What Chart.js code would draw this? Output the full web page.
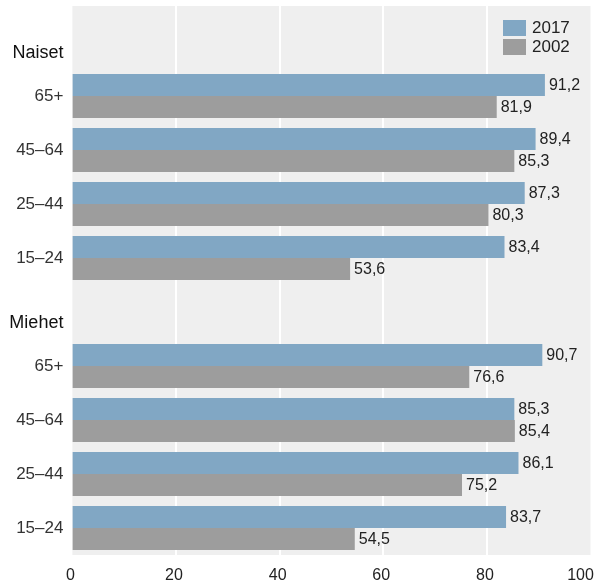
<!DOCTYPE html>
<html>
<head>
<meta charset="utf-8">
<script src="https://cdn.jsdelivr.net/npm/chart.js@4"></script>
<style>
  body { margin: 0; background: #fff; }
  canvas { display: block; }
</style>
</head>
<body>
<canvas id="chart" width="596" height="583"></canvas>
<script>
// ================= DATA =================
const groups = ["Naiset", "Miehet"];
const ageLabels = ["65+", "45–64", "25–44", "15–24"];
const seriesNames = ["2017", "2002"];
const women2017 = [91.2, 89.4, 87.3, 83.4];
const women2002 = [81.9, 85.3, 80.3, 53.6];
const men2017 = [90.7, 85.3, 86.1, 83.7];
const men2002 = [76.6, 85.4, 75.2, 54.5];
const xTicks = [0, 20, 40, 60, 80, 100];

const BLUE = "#81a7c4";
const GRAY = "#9d9d9d";
const BG = "#efefef";
const FONT = "'Liberation Sans', Arial, Helvetica, sans-serif";

// header rows carry no bars
const labels = [["", groups[0]], ...ageLabels, ["", groups[1]], ...ageLabels];
const isHeader = i => i === 0 || i === 5;
const d2017 = [null, ...women2017, null, ...men2017];
const d2002 = [null, ...women2002, null, ...men2002];

const fmt = v => String(v).replace(".", ",");
const noPad = s => { s.paddingLeft = s.paddingRight = s.paddingTop = s.paddingBottom = 0; };

// ================= PLUGINS =================
const backdrop = {
    id: "backdrop",
    beforeDraw(chart) {
        const {ctx, chartArea: a, scales: {x}} = chart;
        const top = 6;
        ctx.save();
        ctx.fillStyle = BG;
        ctx.fillRect(a.left, top, a.right - a.left, a.bottom - top);
        ctx.strokeStyle = "#fff";
        ctx.lineWidth = 2;
        xTicks.slice(1, -1).forEach(t => {
            const px = Math.round(x.getPixelForValue(t));
            ctx.beginPath();
            ctx.moveTo(px, top);
            ctx.lineTo(px, a.bottom);
            ctx.stroke();
        });
        ctx.restore();
    }
};

const valueLabels = {
    id: "valueLabels",
    afterDatasetsDraw(chart) {
        const ctx = chart.ctx;
        ctx.save();
        ctx.font = "16px " + FONT;
        ctx.fillStyle = "#222";
        ctx.textAlign = "left";
        ctx.textBaseline = "middle";
        chart.data.datasets.forEach((ds, di) => {
            chart.getDatasetMeta(di).data.forEach((bar, i) => {
                const v = ds.data[i];
                if (v == null) return;
                ctx.fillText(fmt(v), bar.x + 4, bar.y + 1);
            });
        });
        ctx.restore();
    }
};

const boxLegend = {
    id: "boxLegend",
    afterDraw(chart) {
        const ctx = chart.ctx;
        ctx.save();
        ctx.font = "17px " + FONT;
        ctx.textBaseline = "middle";
        chart.data.datasets.forEach((ds, i) => {
            const y = 20 + i * 19;
            ctx.fillStyle = ds.backgroundColor;
            ctx.fillRect(503, y, 23, 16);
            ctx.fillStyle = "#222";
            ctx.fillText(ds.label, 532, y + 8.5);
        });
        ctx.restore();
    }
};

// ================= CHART =================
new Chart(document.getElementById("chart"), {
    type: "bar",
    data: {
        labels,
        datasets: [
            { label: seriesNames[0], data: d2017, backgroundColor: BLUE },
            { label: seriesNames[1], data: d2002, backgroundColor: GRAY }
        ]
    },
    options: {
        indexAxis: "y",
        responsive: false,
        animation: false,
        barPercentage: 1,
        categoryPercentage: 44 / 54,
        layout: { autoPadding: false, padding: { top: 15, right: 5.5, bottom: 0, left: 0 } },
        plugins: {
            legend: { display: false },
            tooltip: { enabled: false }
        },
        scales: {
            x: {
                min: 0,
                max: 100,
                afterBuildTicks: s => { s.ticks = xTicks.map(v => ({ value: v })); },
                afterFit: s => { s.height = 28; noPad(s); },
                grid: { display: false, drawTicks: false },
                border: { display: false },
                ticks: {
                    padding: 11,
                    labelOffset: -2,
                    maxRotation: 0,
                    color: "#222",
                    font: { family: FONT, size: 16 },
                    callback: v => v === 100 ? "100\u2003" : String(v)
                }
            },
            y: {
                afterFit: s => { s.width = 72.4; noPad(s); },
                grid: { display: false, drawTicks: false },
                border: { display: false },
                ticks: {
                    padding: 9,
                    autoSkip: false,
                    color: c => isHeader(c.index) ? "#111" : "#333",
                    font: c => ({ family: FONT, size: isHeader(c.index) ? 18 : 17 })
                }
            }
        }
    },
    plugins: [backdrop, valueLabels, boxLegend]
});
</script>
</body>
</html>
